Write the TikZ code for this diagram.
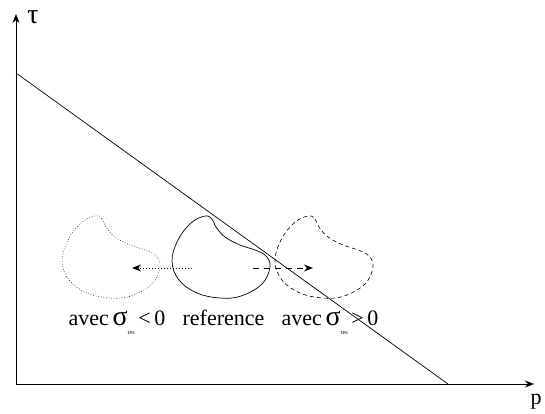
\documentclass[tikz,border=0pt]{standalone}
\usepackage{fontspec}
\setmainfont{Liberation Serif}
\usetikzlibrary{arrows.meta}
\tikzset{
  ln/.style={line width=0.7pt},
  tip/.style={-{Stealth[length=9pt,width=7pt]}},
  lbl/.style={anchor=base,inner sep=0pt,font=\fontsize{22}{24}\selectfont},
}
\newcommand{\blobpath}{plot[smooth cycle,tension=0.65] coordinates {(205,216) (212,219) (216,227) (225,237) (240,245) (255,250) (266,256) (270,267) (262,284) (241,296) (220,298) (197,293) (179,280) (172,261) (178,240) (191,223)}}
\newcommand{\sig}{{\fontsize{28}{28}\selectfont σ}}
\newcommand{\res}{\raisebox{-9pt}{\fontsize{6}{7}\selectfont res}}
\begin{document}
\begin{tikzpicture}[x=1pt,y=-1pt]
\useasboundingbox (0,0) rectangle (545,414);
% axes
\coordinate (O) at (16,384);
\coordinate (Ytip) at (16,14);
\coordinate (Xtip) at (534,384);
\draw[ln,tip] (O) -- (Ytip);
\draw[ln,tip] (O) -- (Xtip);
\node[font=\fontsize{28}{30}\selectfont,inner sep=0pt] (tau) at (33,17) {τ};
\node[font=\fontsize{22}{24}\selectfont,inner sep=0pt] (p) at (536,402) {p};
% line
\coordinate (A) at (16,73);
\coordinate (B) at (448,384);
\draw[ln] (A) -- (B);
% blobs
\draw[ln] \blobpath;
\begin{scope}[xshift=-110pt]
\draw[line width=0.6pt,dotted] \blobpath;
\end{scope}
\begin{scope}[xshift=103pt]
\draw[line width=0.6pt,dash pattern=on 4pt off 3pt] \blobpath;
\end{scope}
% arrows
\coordinate (d1) at (192,268);
\coordinate (d2) at (132,268);
\coordinate (e1) at (253,268);
\coordinate (e2) at (313,268);
\draw[line width=1pt,dotted,tip] (d1) -- (d2);
\draw[line width=1pt,dash pattern=on 6pt off 5pt,tip] (e1) -- (e2);
% labels
\node[lbl] (l1) at (117,325) {avec\,\sig\res\,<\,0};
\node[lbl] (l2) at (223.5,325) {reference};
\node[lbl] (l3) at (330,325) {avec\,\sig\res\,>\,0};
\end{tikzpicture}
\end{document}
